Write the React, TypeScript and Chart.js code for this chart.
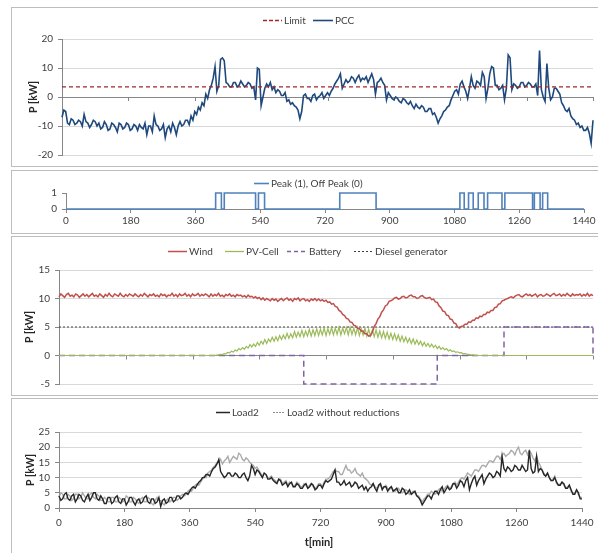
import React, { useEffect, useRef } from 'react';
import { Chart, registerables } from 'chart.js';

Chart.register(...registerables);

// ---------- DATA ----------
const X_MAX = 1440;
const X_TICK_STEP = 180;
const STEP_MIN = 5; // minutes between samples

const pccValues = [
  -7, -4.5, -5, -9, -9.5, -7.5, -8, -9.5, -9, -8, -8.5, -10, -6, -8.5, -9, -10.5, -9.5, -8, -8.5, -10,
  -9, -11, -10.5, -8.5, -9.5, -11.5, -11, -9, -9.5, -10.5, -12, -9, -9.5, -11, -10.5, -9, -9.5, -11.5, -11, -9.5,
  -10, -11.5, -9.5, -10.5, -11, -9, -13, -10, -10, -12, -6.5, -9.5, -10, -11.5, -11, -9.5, -14, -11, -10, -12,
  -9, -10.5, -13, -10, -8.5, -10, -9.5, -8, -8, -9.5, -6.5, -8, -5, -6, -3.5, -4.5, -2, -3, 1, -0.5,
  2.5, 4, 6.5, 10.5, 2, 4, 13, 13.5, 12.5, 5, 4.5, 3.5, 3.5, 5, 5, 3.5, 4, 5.5, 4.5, 3.5,
  4, 5, 4.5, 3, 3.5, -1, 10, 9.5, -3, 0, 3, 4.5, 3.5, 5, 2.5, 3.5, 1.5, 2.5, 2, 0.5,
  0.5, 1.5, -1.5, -1, -2.5, -2, -3, -3.5, -4.5, -7.5, -5, 0.5, 1, -0.5, -0.5, -1.5, 0.5, 1, -1, 0,
  0.5, 1.5, -0.5, 0.5, 1.5, 0.5, 2, 3, 4.5, 5.5, 6.5, 8, 3, 4.5, 6, 5, 5.5, 7, 6.5, 5,
  6.5, 7.5, 5.5, 6.5, 6, 7, 5, 6.5, 8, 6, 1, 5, 5.5, 6.5, 5, 4, -1, 1.5, 0.5, -0.5,
  -1, 0, -0.5, -1.5, -2, -0.5, -1, -2, -2.5, -1.5, -3, -4, -2.5, -3.5, -4, -3, -3.5, -5, -5, -4,
  -4, -6, -5.5, -7, -9, -7.5, -6.5, -5, -4.5, -3.5, -3, -1, 0.5, 2, 2.5, 1, 4.5, 5.5, 3.5, 2,
  -0.5, 3, 7, 4, 3, 5.5, 5, 4, 8.5, 7, -0.5, 3, 8, 10.5, 10, 4, 4, 2.5, 3, 4,
  -1, 3, 14.5, 13.5, 2.5, 4.5, 4, 3, 3.5, 5, 5, 3.5, 4, 5, 4.5, 3.5, 3.5, 4.5, 0.5, 16,
  2.5, 0, -1.5, 11.5, 3, -1, 0, 3, 3, 2, 1, -2, -3, -4.5, -5, -4, -6.5, -7.5, -8, -9.5,
  -9, -10.5, -10, -11.5, -11.5, -10.5, -12.5, -16, -8,
];
const pccLimit = 3.5;

// minutes at which the peak signal toggles (starts off, first toggle = on)
const peakSwitchMinutes = [
  416, 432, 440, 527, 535, 552, 761, 862, 1095, 1107, 1119, 1132,
  1146, 1162, 1172, 1212, 1220, 1297, 1302, 1318, 1325, 1339,
];

const windValues = [
  10.3, 10.8, 10.5, 10.2, 10.7, 10.9, 10.4, 10.6, 10.3, 10.8, 10.6, 10.2, 10.5, 10.8, 10.4, 10.7, 10.3, 10.6, 10.9, 10.4,
  10.6, 10.3, 10.8, 10.5, 10.2, 10.7, 10.4, 10.9, 10.5, 10.3, 10.8, 10.6, 10.4, 10.9, 10.5, 10.3, 10.7, 10.4, 10.8, 10.6,
  10.4, 10.8, 10.5, 10.3, 10.7, 10.4, 10.9, 10.6, 10.3, 10.7, 10.5, 10.8, 10.4, 10.6, 10.3, 10.8, 10.5, 10.7, 10.3, 10.6,
  10.5, 10.9, 10.4, 10.7, 10.3, 10.8, 10.5, 10.6, 10.9, 10.4, 10.7, 10.3, 10.8, 10.5, 10.6, 10.9, 10.4, 10.7, 10.5, 10.8,
  10.6, 10.3, 10.8, 10.4, 10.7, 10.5, 10.9, 10.4, 10.6, 10.3, 10.7, 10.5, 10.8, 10.4, 10.6, 10.3, 10.7, 10.5, 10.6, 10.3,
  10.5, 10.2, 10.6, 10.3, 10.4, 10.1, 10.3, 10.0, 10.2, 9.8, 10.1, 9.7, 10.0, 9.8, 9.6, 10.0, 9.7, 9.9, 9.5, 9.8,
  10.0, 9.6, 9.9, 10.1, 9.7, 9.9, 9.5, 10.0, 9.8, 10.1, 9.6, 9.9, 10.0, 9.6, 9.8, 9.5, 9.9, 9.7, 10.0, 9.6,
  9.9, 9.6, 9.8, 9.5, 9.7, 9.3, 9.4, 9.0, 9.1, 8.6, 8.5, 7.9, 7.7, 7.2, 7.0, 6.5, 6.4, 5.9, 5.8, 5.3,
  5.2, 4.8, 4.7, 4.3, 4.3, 3.8, 3.8, 3.4, 3.5, 4.1, 5.1, 5.6, 6.4, 6.8, 7.6, 8.0, 8.7, 8.9, 9.5, 9.6,
  9.8, 10.1, 10.2, 9.9, 10.0, 10.3, 10.4, 10.1, 10.2, 10.5, 10.6, 10.3, 10.3, 10.0, 10.1, 10.4, 10.5, 10.2, 10.0, 10.1,
  10.2, 9.8, 9.9, 9.4, 9.3, 8.7, 8.4, 7.8, 7.7, 7.1, 7.0, 6.4, 6.3, 5.7, 5.6, 5.0, 4.8, 5.1, 5.2, 5.5,
  5.5, 5.9, 5.8, 6.2, 6.2, 6.6, 6.5, 6.9, 6.8, 7.2, 7.2, 7.6, 7.5, 7.9, 7.9, 8.4, 8.5, 9.0, 9.1, 9.6,
  9.7, 9.9, 10.0, 10.2, 10.3, 10.1, 10.4, 10.6, 10.7, 10.4, 10.3, 10.6, 10.8, 10.5, 10.7, 10.4, 10.6, 10.8, 10.3, 10.6,
  10.7, 10.4, 10.5, 10.8, 10.6, 10.4, 10.7, 10.9, 10.5, 10.6, 10.8, 10.4, 10.7, 10.5, 10.9, 10.6, 10.4, 10.8, 10.5, 10.7,
  10.6, 10.8, 10.4, 10.7, 10.5, 10.9, 10.4, 10.7, 10.5,
];

const pvValues = [
  0, 0, 0, 0, 0, 0, 0, 0, 0, 0, 0, 0, 0, 0, 0, 0, 0, 0, 0, 0,
  0, 0, 0, 0, 0, 0, 0, 0, 0, 0, 0, 0, 0, 0, 0, 0, 0, 0, 0, 0,
  0, 0, 0, 0, 0, 0, 0, 0, 0, 0, 0, 0, 0, 0, 0, 0, 0, 0, 0, 0,
  0, 0, 0, 0, 0, 0, 0, 0, 0, 0, 0, 0, 0, 0, 0, 0, 0, 0, 0, 0,
  0, 0, 0, 0, 0, 0.05, 0.1, 0.2, 0.15, 0.35, 0.3, 0.55, 0.45, 0.75, 0.6, 0.95, 0.8, 1.2, 1.0, 1.4,
  1.1, 1.6, 1.3, 1.9, 1.5, 2.0, 1.6, 2.3, 1.8, 2.5, 2.0, 2.8, 2.1, 2.9, 2.4, 3.2, 2.5, 3.3, 2.6, 3.5,
  2.8, 3.6, 2.9, 3.9, 3.0, 3.8, 3.1, 4.2, 3.2, 4.1, 3.3, 4.4, 3.3, 4.3, 3.4, 4.6, 3.4, 4.5, 3.5, 4.7,
  3.5, 4.6, 3.6, 4.8, 3.5, 4.7, 3.7, 4.9, 3.6, 4.8, 3.7, 5.0, 3.6, 4.8, 3.8, 4.9, 3.6, 5.0, 3.7, 4.8,
  3.6, 4.9, 3.5, 4.7, 3.6, 4.8, 3.4, 4.6, 3.4, 4.5, 3.3, 4.5, 3.2, 4.3, 3.1, 4.2, 3.0, 4.1, 2.9, 3.9,
  2.8, 3.8, 2.7, 3.6, 2.5, 3.4, 2.4, 3.2, 2.3, 3.0, 2.1, 2.9, 2.0, 2.7, 1.9, 2.5, 1.7, 2.3, 1.6, 2.1,
  1.5, 2.0, 1.4, 1.8, 1.2, 1.6, 1.1, 1.4, 1.0, 1.2, 0.8, 1.0, 0.7, 0.8, 0.55, 0.65, 0.45, 0.5, 0.3, 0.35,
  0.25, 0.2, 0.12, 0.1, 0.05, 0.03, 0, 0, 0, 0, 0, 0, 0, 0, 0, 0, 0, 0, 0, 0,
  0, 0, 0, 0, 0, 0, 0, 0, 0, 0, 0, 0, 0, 0, 0, 0, 0, 0, 0, 0,
  0, 0, 0, 0, 0, 0, 0, 0, 0, 0, 0, 0, 0, 0, 0, 0, 0, 0, 0, 0,
  0, 0, 0, 0, 0, 0, 0, 0, 0,
];

const batteryStepMinutes = [0, 660, 1020, 1200, 1440];
const batteryStepValues = [0, -5, 0, 5, 0];
const dieselValue = 5;

const load2Values = [
  4, 2.5, 3, 4.5, 5, 3, 2.5, 4, 4.5, 2, 3, 4.5, 4, 2.5, 2, 3.5, 4.5, 2.5, 3.5, 5,
  5, 3, 2.5, 4, 3, 1.5, 1.5, 3.5, 3.5, 1.5, 2, 3.5, 4, 2, 1.5, 3, 3, 1, 2, 3.5,
  3.5, 2, 1, 2.5, 3, 1.5, 2, 3.5, 4, 2, 1.5, 3, 3, 1.5, 2, 3.5, 0.5, 2.5, 3, 1.5,
  2, 3.5, 3.5, 2, 2.5, 4, 4, 3, 3.5, 4.5, 5, 4.5, 5.5, 6.5, 7, 6.5, 7.5, 8.5, 9, 10,
  10, 11, 11, 10.5, 12, 13, 13.5, 14.5, 16, 12, 11, 10, 10.5, 11.5, 11.5, 10.5, 10.5, 11.5, 11, 10,
  10, 11, 11.5, 10, 9, 10.5, 14, 13, 11, 12.5, 12, 11, 10, 11.5, 11, 9.5, 9.5, 10, 9, 8.5,
  8, 9.5, 9, 7.5, 8, 8.5, 7, 8, 8.5, 7, 7, 8, 7.5, 6.5, 6.5, 7.5, 8, 6.5, 7, 8,
  7.5, 6, 6.5, 7.5, 7.5, 6.5, 8, 9, 8.5, 9, 9.5, 11, 12.5, 8.5, 8.5, 7.5, 8, 9, 7.5, 8,
  8.5, 7, 7.5, 8.5, 8, 6.5, 7, 7.5, 6, 7, 5.5, 6.5, 7, 8, 6.5, 5.5, 7.5, 8, 6, 7,
  7, 5.5, 6.5, 7, 5.5, 6, 6.5, 5, 5, 6.5, 6, 4.5, 5, 6, 4.5, 5, 5.5, 4, 3.5, 2.5,
  1, 2, 3, 4, 4, 3, 4.5, 5.5, 5.5, 4.5, 6, 7, 5, 6, 7, 6, 6.5, 8, 8, 6.5,
  7.5, 9, 8.5, 7, 9, 10, 6, 8, 9.5, 10.5, 7.5, 9, 10, 11, 8, 9.5, 10.5, 11.5, 11, 10,
  10.5, 12, 11.5, 10.5, 17, 13, 12, 13.5, 13, 12, 12.5, 14, 13.5, 12.5, 12.5, 14, 13, 12, 12.5, 19,
  13, 11.5, 12, 17, 12, 13, 12.5, 11, 10.5, 11.5, 10, 9, 9, 10, 8.5, 7.5, 7.5, 8.5, 8, 6.5,
  6.5, 7.5, 6, 4.5, 4.5, 6, 5, 3, 3,
];

const load2NoReductionValues = [
  3.5, 5, 4.5, 3, 3, 4.5, 4, 2.5, 3, 4.5, 4.5, 3, 3.5, 5, 4, 3, 3, 4.5, 5, 3.5,
  3, 4.5, 4, 2.5, 2.5, 3.5, 3, 2, 2, 3.5, 3.5, 2, 2, 3.5, 3, 2, 2.5, 4, 3.5, 2,
  2, 3.5, 3, 2, 1.5, 3, 3.5, 2, 2, 3.5, 3, 1.5, 1, 2.5, 3.5, 2.5, 2.5, 1.5, 1, 2.5,
  3, 2, 2.5, 3.5, 3.5, 2.5, 3, 4, 4.5, 4, 4.5, 5.5, 6, 5.5, 6.5, 7.5, 8, 7.5, 8.5, 9.5,
  10.5, 10, 11.5, 12, 12.5, 13.5, 14, 15, 15, 16, 14.5, 15.5, 16, 17, 15, 16, 17, 16.5, 16, 18,
  17.5, 16, 15.5, 16.5, 16, 15, 14.5, 14, 13, 13.5, 12.5, 11.5, 10.5, 11.5, 11, 10, 10, 10.5, 9.5, 9,
  8.5, 9.5, 9.5, 8, 8.5, 9, 7.5, 8.5, 8, 7, 7.5, 8.5, 8, 7, 7, 8, 7.5, 6.5, 7.5, 8,
  7, 6.5, 7, 8, 8, 7, 8.5, 9.5, 9.5, 10, 11, 12, 12.5, 12, 12, 11, 11, 12.5, 14, 12.5,
  12.5, 11.5, 12, 13, 11.5, 11, 10.5, 11.5, 10, 9.5, 9, 8, 7.5, 8, 7, 6.5, 7, 8, 6.5, 7,
  7.5, 6.5, 6, 7, 6, 5.5, 6, 6.5, 5.5, 5, 5.5, 6, 5.5, 4.5, 5, 5.5, 5, 4, 4, 3,
  2, 3, 3.5, 4.5, 4.5, 5.5, 5, 4.5, 5, 6, 6.5, 5.5, 6, 7, 7.5, 6.5, 7, 8, 8.5, 7.5,
  8.5, 9.5, 10, 9.5, 10.5, 11.5, 11, 10.5, 11.5, 12.5, 12.5, 12, 13, 14, 14, 13.5, 14.5, 15.5, 15.5, 15,
  16, 17, 17, 16, 17.5, 18, 17, 17.5, 18, 19, 18.5, 17.5, 19, 20, 18, 17.5, 18.5, 19, 17.5, 19,
  18, 16.5, 15.5, 17, 15, 14, 12.5, 11.5, 10.5, 11.5, 10, 9, 9.5, 10.5, 8, 7.5, 8, 8.5, 7.5, 6.5,
  7, 7.5, 5.5, 5, 5, 6, 4.5, 3.5, 3.5,
];

// ---------- helpers ----------
type Pt = { x: number; y: number };
const toSeries = (vals: number[]): Pt[] => vals.map((v, i) => ({ x: i * STEP_MIN, y: v }));
const flatLine = (v: number): Pt[] => [{ x: 0, y: v }, { x: X_MAX, y: v }];
const peakPoints = (): Pt[] => {
  const pts: Pt[] = [{ x: 0, y: 0 }];
  peakSwitchMinutes.forEach((t, i) => pts.push({ x: t, y: i % 2 === 0 ? 1 : 0 }));
  pts.push({ x: X_MAX, y: 0 });
  return pts;
};
const batteryPoints = (): Pt[] => batteryStepMinutes.map((t, i) => ({ x: t, y: batteryStepValues[i] }));

const FONT = 'Lato, "Open Sans", sans-serif';
const TEXT = '#404040';
const GRID = '#D9D9D9';
const AXIS = '#868686';
const CW = 590;

type LegendItem = { x: number; len: number; text: string; color: string; dash: number[]; width: number };
type Spec = {
  H: number;
  plot: { left: number; right: number; top: number; bottom: number };
  datasets: any[];
  y: { min: number; max: number; step: number; grid: boolean };
  xLabels: boolean;
  xPad: number;
  legendY: number;
  legend: LegendItem[];
  yTitle?: { x: number; y: number };
  xTitle?: { x: number; y: number };
  zeroTicks: boolean;
};

function makeChart(canvas: HTMLCanvasElement, s: Spec) {
  const decor = {
    id: 'decor',
    beforeDatasetsDraw(chart: any) {
      if (!s.zeroTicks) return;
      const ctx = chart.ctx;
      const y0 = chart.scales.y.getPixelForValue(0);
      ctx.save();
      ctx.strokeStyle = AXIS;
      ctx.lineWidth = 1;
      for (let t = 0; t <= X_MAX; t += X_TICK_STEP) {
        const x = Math.round(chart.scales.x.getPixelForValue(t)) + 0.5;
        ctx.beginPath();
        ctx.moveTo(x, y0);
        ctx.lineTo(x, y0 + 4);
        ctx.stroke();
      }
      ctx.restore();
    },
    afterDraw(chart: any) {
      const ctx = chart.ctx;
      ctx.save();
      ctx.font = `10px ${FONT}`;
      ctx.textBaseline = 'middle';
      ctx.textAlign = 'left';
      for (const it of s.legend) {
        ctx.beginPath();
        ctx.setLineDash(it.dash);
        ctx.strokeStyle = it.color;
        ctx.lineWidth = it.width;
        ctx.moveTo(it.x, s.legendY + 0.5);
        ctx.lineTo(it.x + it.len, s.legendY + 0.5);
        ctx.stroke();
        ctx.setLineDash([]);
        ctx.fillStyle = TEXT;
        ctx.fillText(it.text, it.x + it.len + 2, s.legendY + 1);
      }
      ctx.fillStyle = '#262626';
      if (s.yTitle) {
        ctx.save();
        ctx.translate(s.yTitle.x, s.yTitle.y);
        ctx.rotate(-Math.PI / 2);
        ctx.font = `bold 10.5px ${FONT}`;
        ctx.textAlign = 'center';
        ctx.fillText('P [kW]', 0, 0);
        ctx.restore();
      }
      if (s.xTitle) {
        ctx.font = `bold 11px ${FONT}`;
        ctx.textAlign = 'center';
        ctx.fillText('t[min]', s.xTitle.x, s.xTitle.y);
      }
      ctx.restore();
    },
  };

  return new Chart(canvas, {
    type: 'line',
    data: { datasets: s.datasets },
    options: {
      animation: false,
      responsive: false,
      events: [],
      layout: {
        padding: {
          left: 0,
          top: s.plot.top,
          right: CW - s.plot.right,
          bottom: s.xLabels ? 0 : s.H - s.plot.bottom,
        },
      },
      elements: { point: { radius: 0 }, line: { tension: 0 } },
      plugins: { legend: { display: false }, tooltip: { enabled: false }, title: { display: false } },
      scales: {
        x: {
          type: 'linear',
          min: 0,
          max: X_MAX,
          display: s.xLabels,
          ticks: {
            display: s.xLabels,
            stepSize: X_TICK_STEP,
            autoSkip: false,
            maxRotation: 0,
            padding: s.xPad,
            color: TEXT,
            font: { family: FONT, size: 10 },
            callback: (v: any) => String(v),
          },
          grid: { drawOnChartArea: false, drawTicks: true, tickLength: 4, color: AXIS },
          border: { display: true, color: AXIS },
          afterFit: (sc: any) => {
            sc.height = s.xLabels ? s.H - s.plot.bottom : 0;
          },
        },
        y: {
          type: 'linear',
          min: s.y.min,
          max: s.y.max,
          ticks: {
            stepSize: s.y.step,
            padding: 5,
            color: TEXT,
            font: { family: FONT, size: 10 },
            callback: (v: any) => String(v),
          },
          grid: {
            drawOnChartArea: s.y.grid,
            color: (c: any) => (c.tick && c.tick.value === 0 ? AXIS : GRID),
            tickColor: AXIS,
            tickLength: 4,
          },
          border: { display: true, color: AXIS },
          afterFit: (sc: any) => {
            sc.width = s.plot.left;
          },
        },
      },
    } as any,
    plugins: [decor],
  });
}

const specs: { top: number; spec: Spec }[] = [
  {
    top: 7,
    spec: {
      H: 158,
      plot: { left: 50, right: 581, top: 31, bottom: 148 },
      datasets: [
        { data: flatLine(pccLimit), borderColor: '#A0282B', borderWidth: 1.3, borderDash: [4, 3], clip: 4 },
        { data: toSeries(pccValues), borderColor: '#1F497D', borderWidth: 1.6, clip: 4 },
      ],
      y: { min: -20, max: 20, step: 10, grid: true },
      xLabels: false,
      xPad: 5,
      legendY: 12,
      legend: [
        { x: 251, len: 19, text: 'Limit', color: '#A0282B', dash: [4, 2], width: 1.3 },
        { x: 301, len: 20, text: 'PCC', color: '#1F497D', dash: [], width: 1.6 },
      ],
      yTitle: { x: 22, y: 89 },
      zeroTicks: true,
    },
  },
  {
    top: 170,
    spec: {
      H: 62,
      plot: { left: 54, right: 572, top: 22, bottom: 38 },
      datasets: [
        { data: peakPoints(), borderColor: '#4F81BD', borderWidth: 1.6, stepped: true, clip: 4 },
      ],
      y: { min: 0, max: 1, step: 1, grid: false },
      xLabels: true,
      xPad: 2,
      legendY: 12,
      legend: [
        { x: 242, len: 15, text: 'Peak (1), Off Peak (0)', color: '#4F81BD', dash: [], width: 1.6 },
      ],
      zeroTicks: false,
    },
  },
  {
    top: 236,
    spec: {
      H: 158,
      plot: { left: 47, right: 581, top: 33, bottom: 149 },
      datasets: [
        { data: toSeries(windValues), borderColor: '#C0504D', borderWidth: 1.5, clip: 4 },
        { data: toSeries(pvValues), borderColor: '#9BBB59', borderWidth: 1.2, clip: 4 },
        { data: batteryPoints(), borderColor: '#8064A2', borderWidth: 1.5, borderDash: [6, 4], stepped: true, clip: 4 },
        { data: flatLine(dieselValue), borderColor: '#404040', borderWidth: 1, borderDash: [2, 2], clip: 4 },
      ],
      y: { min: -5, max: 15, step: 5, grid: true },
      xLabels: false,
      xPad: 5,
      legendY: 14,
      legend: [
        { x: 156, len: 19, text: 'Wind', color: '#C0504D', dash: [], width: 1.5 },
        { x: 213, len: 19, text: 'PV-Cell', color: '#9BBB59', dash: [], width: 1.3 },
        { x: 275, len: 20, text: 'Battery', color: '#8064A2', dash: [4, 3], width: 1.5 },
        { x: 342, len: 19, text: 'Diesel generator', color: '#404040', dash: [2, 2], width: 1 },
      ],
      yTitle: { x: 18, y: 90 },
      zeroTicks: true,
    },
  },
  {
    top: 398,
    spec: {
      H: 170,
      plot: { left: 47, right: 570, top: 33, bottom: 109 },
      datasets: [
        { data: toSeries(load2Values), borderColor: '#262626', borderWidth: 1.4, clip: 4 },
        { data: toSeries(load2NoReductionValues), borderColor: '#ABABAB', borderWidth: 1.4, clip: 4 },
      ],
      y: { min: 0, max: 25, step: 5, grid: true },
      xLabels: true,
      xPad: 5,
      legendY: 13,
      legend: [
        { x: 204, len: 14, text: 'Load2', color: '#262626', dash: [], width: 1.5 },
        { x: 261, len: 12, text: 'Load2 without reductions', color: '#909090', dash: [2, 1], width: 1 },
      ],
      yTitle: { x: 19, y: 71 },
      xTitle: { x: 307, y: 143 },
      zeroTicks: false,
    },
  },
];

function Panel({ top, spec }: { top: number; spec: Spec }) {
  const ref = useRef<HTMLCanvasElement>(null);
  useEffect(() => {
    const chart = makeChart(ref.current as HTMLCanvasElement, spec);
    return () => chart.destroy();
  }, []);
  return (
    <div
      style={{
        position: 'absolute',
        left: 11,
        top,
        width: CW,
        height: spec.H,
        border: '1px solid #BDBDBD',
        background: '#fff',
      }}
    >
      <canvas ref={ref} width={CW} height={spec.H} style={{ display: 'block', width: CW, height: spec.H }} />
    </div>
  );
}

export default function App() {
  return (
    <div
      style={{
        position: 'absolute',
        left: 0,
        top: 0,
        width: 598,
        height: 553,
        overflow: 'hidden',
        background: '#fff',
      }}
    >
      {specs.map((p, i) => (
        <Panel key={i} top={p.top} spec={p.spec} />
      ))}
    </div>
  );
}
